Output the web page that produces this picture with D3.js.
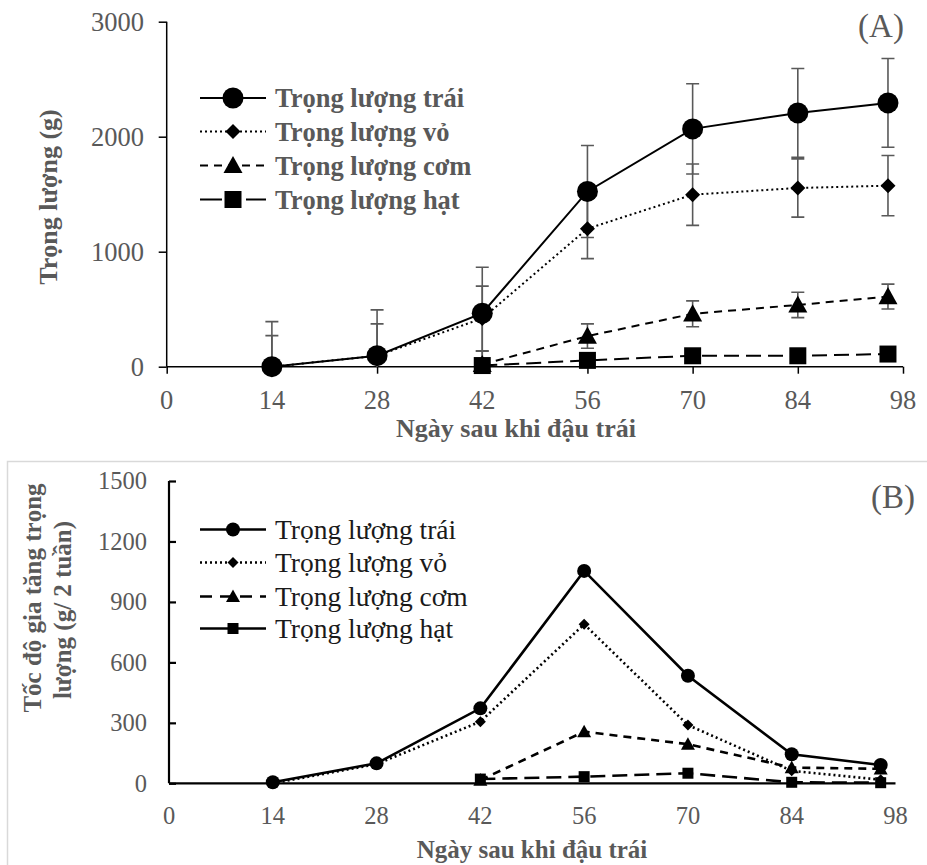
<!DOCTYPE html>
<html>
<head>
<meta charset="utf-8">
<script src="https://cdn.jsdelivr.net/npm/d3@7"></script>
<style>
  body { margin: 0; background: #fff; }
  svg { display: block; font-family: "Liberation Serif", "Times New Roman", serif; }
</style>
</head>
<body>
<div id="chart"></div>
<script>
// ---- data -------------------------------------------------------------------
const days = [14, 28, 42, 56, 70, 84, 96];
const xTicks = [0, 14, 28, 42, 56, 70, 84, 98];
const seriesNames = ["Trọng lượng trái", "Trọng lượng vỏ", "Trọng lượng cơm", "Trọng lượng hạt"];

// (A) weight, g
const fruitWeight = [0, 96, 465, 1524, 2068, 2207, 2294];
const fruitErr    = [392, 398, 400, 400, 392, 386, 386];
const peelWeight  = [0, 95, 420, 1200, 1496, 1554, 1574];
const peelErr     = [270, 277, 281, 260, 267, 253, 262];
const pulpWeight  = [null, null, 20, 266, 460, 537, 610];
const pulpErr     = [null, null, 115, 106, 112, 110, 108];
const seedWeight  = [null, null, 10, 55, 95, 95, 110];
const seedErr     = [null, null, 8, 12, 15, 15, 15];
const yTicksA = [0, 1000, 2000, 3000];

// (B) growth rate, g / 2 weeks
const fruitRate = [5, 99, 372, 1054, 534, 144, 91];
const peelRate  = [0, 95, 306, 789, 289, 62, 18];
const pulpRate  = [null, null, 16, 256, 194, 78, 72];
const seedRate  = [null, null, 21, 33, 50, 5, 3];
const yTicksB = [0, 300, 600, 900, 1200, 1500];

// ---- styles -----------------------------------------------------------------
const GREY = "#595959";
const lineStyles = [
    { dash: null,   marker: "circle" },
    { dash: "2,3",  marker: "diamond" },
    { dash: "8,6",  marker: "triangle" },
    { dash: "15,7", marker: "square" }
];

const svg = d3.select("#chart").append("svg")
    .attr("width", 927).attr("height", 865);
svg.append("rect").attr("width", 927).attr("height", 865).attr("fill", "#fff");

// marker path centred on 0,0 ; s = rough half-size
function markerPath(type, s) {
    if (type === "circle") {
        return `M${-s},0A${s},${s} 0 1,0 ${s},0A${s},${s} 0 1,0 ${-s},0Z`;
    }
    if (type === "diamond") return `M0,${-s}L${s},0L0,${s}L${-s},0Z`;
    if (type === "triangle") return `M0,${-s}L${s},${s * 0.8}L${-s},${s * 0.8}Z`;
    return `M${-s},${-s}H${s}V${s}H${-s}Z`;
}

function drawPanel(p) {
    const g = svg.append("g");
    const x = d3.scaleLinear().domain([0, 98]).range(p.xRange);
    const y = d3.scaleLinear().domain(p.yDomain).range(p.yRange);

    // axes
    const yAxis = p.ticksInside ? d3.axisRight(y) : d3.axisLeft(y);
    const ya = g.append("g")
        .attr("transform", `translate(${p.xRange[0]},0)`)
        .call(yAxis.tickValues(p.yTicks).tickSize(p.tickLen).tickFormat(d3.format("d")));
    ya.select(".domain").attr("stroke", "#000").attr("stroke-width", p.axisW)
        .attr("d", `M0,${p.yRange[1]}V${p.yRange[0]}`);
    ya.selectAll(".tick line").attr("stroke", "#000").attr("stroke-width", p.axisW);
    ya.selectAll(".tick text").remove();
    g.append("g").selectAll("text").data(p.yTicks).join("text")
        .attr("x", p.yLabelRight).attr("y", d => y(d) + p.tickFont * 0.34)
        .attr("text-anchor", "end").attr("fill", GREY)
        .style("font-size", p.tickFont + "px").text(d => d);

    const xa = g.append("g")
        .attr("transform", `translate(0,${p.yRange[0]})`)
        .call(d3.axisBottom(x).tickValues(xTicks).tickSize(p.xTickLen).tickFormat(""));
    xa.select(".domain").attr("stroke", "#000").attr("stroke-width", p.axisW)
        .attr("d", `M${p.xRange[0]},0H${p.xRange[1]}`);
    xa.selectAll(".tick line").attr("stroke", "#000").attr("stroke-width", p.axisW);
    g.append("g").selectAll("text").data(xTicks).join("text")
        .attr("x", d => x(d)).attr("y", p.xLabelY)
        .attr("text-anchor", "middle").attr("fill", GREY)
        .style("font-size", p.tickFont + "px").text(d => d);

    // axis titles
    g.append("text").attr("x", p.xTitle[0]).attr("y", p.xTitle[1])
        .attr("text-anchor", "middle").attr("fill", GREY)
        .style("font-size", p.titleFont + "px").style("font-weight", "bold")
        .text("Ngày sau khi đậu trái");
    p.yTitle.forEach(t => {
        g.append("text")
            .attr("transform", `translate(${t.x},${t.y}) rotate(-90)`)
            .attr("text-anchor", "middle").attr("fill", GREY)
            .style("font-size", p.titleFont + "px").style("font-weight", "bold")
            .text(t.text);
    });
    g.append("text").attr("x", p.tag[0]).attr("y", p.tag[1])
        .attr("text-anchor", "middle").attr("fill", GREY)
        .style("font-size", "33px").text(p.tag[2]);

    // error bars (clipped at the plot area, like the original)
    const clipId = "clip" + p.tag[2].replace(/\W/g, "");
    svg.append("clipPath").attr("id", clipId).append("rect")
        .attr("x", p.xRange[0]).attr("y", p.yRange[1] - 2)
        .attr("width", p.xRange[1] - p.xRange[0] + 10)
        .attr("height", p.yRange[0] - p.yRange[1] + 2);
    if (p.errors) {
        const eg = g.append("g").attr("clip-path", `url(#${clipId})`)
            .attr("stroke", GREY).attr("stroke-width", 1.6).attr("fill", "none");
        p.series.forEach((vals, si) => {
            const errs = p.errors[si];
            days.forEach((d, i) => {
                if (vals[i] == null || errs[i] == null) return;
                const cx = x(d), hi = y(vals[i] + errs[i]), lo = y(vals[i] - errs[i]);
                eg.append("path").attr("d",
                    `M${cx},${lo}V${hi}M${cx - 6.5},${hi}H${cx + 6.5}M${cx - 6.5},${lo}H${cx + 6.5}`);
            });
        });
    }

    // lines
    const line = d3.line().defined(d => d.v != null).x(d => x(d.d)).y(d => y(d.v));
    p.series.forEach((vals, si) => {
        const pts = days.map((d, i) => ({ d, v: vals[i] }));
        g.append("path").datum(pts).attr("d", line)
            .attr("fill", "none").attr("stroke", "#000")
            .attr("stroke-width", p.lineW)
            .attr("stroke-dasharray", lineStyles[si].dash);
    });

    // markers, fruit drawn last so it sits on top
    [1, 2, 3, 0].forEach(si => {
        const vals = p.series[si];
        g.append("g").selectAll("path")
            .data(days.map((d, i) => ({ d, v: vals[i] })).filter(o => o.v != null))
            .join("path")
            .attr("transform", o => `translate(${x(o.d)},${y(o.v)})`)
            .attr("d", markerPath(lineStyles[si].marker, p.markerSize[si]))
            .attr("fill", "#000");
    });

    // legend
    const lg = g.append("g");
    seriesNames.forEach((name, si) => {
        const ly = p.legend.y[si];
        const st = lineStyles[si];
        const dash = p.legend.dash[si];
        lg.append("path").attr("d", `M${p.legend.x0},${ly}H${p.legend.x1}`)
            .attr("stroke", "#000").attr("stroke-width", p.lineW)
            .attr("stroke-dasharray", dash).attr("fill", "none");
        lg.append("path")
            .attr("transform", `translate(${(p.legend.x0 + p.legend.x1) / 2},${ly})`)
            .attr("d", markerPath(st.marker, p.markerSize[si])).attr("fill", "#000");
        lg.append("text").attr("x", p.legend.tx).attr("y", ly + p.legend.font * 0.34)
            .attr("fill", p.legend.color)
            .style("font-size", p.legend.font + "px")
            .style("font-weight", p.legend.bold ? "bold" : "normal")
            .text(name);
    });
}

// ---- panel (A) --------------------------------------------------------------
drawPanel({
    xRange: [166.7, 903], yRange: [366.7, 21.7], yDomain: [0, 3000], yTicks: yTicksA,
    ticksInside: false, tickLen: 8, xTickLen: 7, axisW: 1.5, lineW: 2,
    yLabelRight: 144, xLabelY: 409, tickFont: 26.5, titleFont: 26,
    xTitle: [516, 437],
    yTitle: [{ x: 57, y: 197, text: "Trọng lượng (g)" }],
    tag: [881, 37, "(A)"],
    series: [fruitWeight, peelWeight, pulpWeight, seedWeight],
    errors: [fruitErr, peelErr, pulpErr, seedErr],
    markerSize: [10.5, 7.5, 9.5, 8.5],
    legend: {
        x0: 200, x1: 266, tx: 275, y: [98, 131.5, 165.5, 199.5],
        dash: [null, "2,3", "8,6", "22,8,8,8"],
        font: 26.5, bold: true, color: GREY
    }
});

// ---- panel (B) --------------------------------------------------------------
svg.append("rect").attr("x", 7.5).attr("y", 461.5).attr("width", 930).attr("height", 420)
    .attr("fill", "none").attr("stroke", "#d9d9d9").attr("stroke-width", 1.5);

drawPanel({
    xRange: [169, 895.5], yRange: [783.3, 481], yDomain: [0, 1500], yTicks: yTicksB,
    ticksInside: true, tickLen: 7, xTickLen: 0, axisW: 2.2, lineW: 2.6,
    yLabelRight: 147, xLabelY: 824, tickFont: 24.5, titleFont: 25,
    xTitle: [532, 858],
    yTitle: [
        { x: 41, y: 598, text: "Tốc độ gia tăng trọng" },
        { x: 71, y: 610, text: "lượng (g/ 2 tuần)" }
    ],
    tag: [893, 508, "(B)"],
    series: [fruitRate, peelRate, pulpRate, seedRate],
    errors: null,
    markerSize: [7, 5.5, 7, 5.5],
    legend: {
        x0: 200, x1: 266, tx: 275, y: [529.5, 562.5, 596.5, 628.5],
        dash: [null, "2,3", "12,8", null],
        font: 27.5, bold: false, color: "#1a1a1a"
    }
});
</script>
</body>
</html>
